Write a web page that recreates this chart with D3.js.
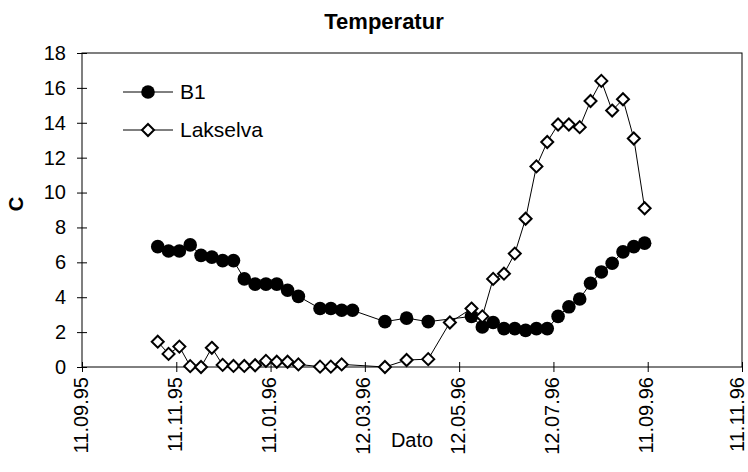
<!DOCTYPE html>
<html><head><meta charset="utf-8">
<script src="https://cdn.jsdelivr.net/npm/d3@7"></script>
<style>
body{margin:0;background:#fff;}
svg{font-family:"Liberation Sans",Arial,sans-serif;}
</style></head>
<body><svg id="c" width="748" height="472"></svg>
<script>
const dates = ["1995-10-30","1995-11-06","1995-11-13","1995-11-20","1995-11-27","1995-12-04","1995-12-11","1995-12-18","1995-12-25",
"1996-01-01","1996-01-08","1996-01-15","1996-01-22","1996-01-29","1996-02-12","1996-02-19","1996-02-26","1996-03-04",
"1996-03-25","1996-04-08","1996-04-22","1996-05-06","1996-05-20","1996-05-27","1996-06-03","1996-06-10","1996-06-17","1996-06-24",
"1996-07-01","1996-07-08","1996-07-15","1996-07-22","1996-07-29","1996-08-05","1996-08-12","1996-08-19","1996-08-26","1996-09-02","1996-09-09"];
const b1 = [6.9,6.65,6.65,7.0,6.4,6.3,6.1,6.1,5.05,
4.75,4.75,4.75,4.4,4.05,3.35,3.35,3.25,3.25,
2.6,2.8,2.6,null,2.9,2.3,2.55,2.2,2.2,2.1,
2.2,2.2,2.9,3.45,3.9,4.8,5.45,5.95,6.6,6.9,7.1];
const lakselva = [1.45,0.75,1.17,0.05,0.0,1.1,0.12,0.06,0.06,
0.1,0.35,0.3,0.3,0.15,0.02,0.02,0.15,null,
0.0,0.4,0.45,2.55,3.35,2.9,5.05,5.35,6.5,8.5,
11.5,12.9,13.9,13.9,13.75,15.25,16.4,14.7,15.35,13.1,9.1];
const seriesNames = ["B1","Lakselva"];
const yTicks = [0,2,4,6,8,10,12,14,16,18];
const xTickDates = ["1995-09-11","1995-11-11","1996-01-11","1996-03-12","1996-05-12","1996-07-12","1996-09-11","1996-11-11"];
const xDomain = ["1995-09-11","1996-11-11"];

const svg = d3.select("#c");
const L=82,R=742,T=53,B=367;
const x = d3.scaleUtc().domain(xDomain.map(d=>new Date(d))).range([L,R]);
const y = d3.scaleLinear().domain([0,18]).range([B,T]);

// plot border
svg.append("rect").attr("x",L).attr("y",T).attr("width",R-L).attr("height",B-T)
  .attr("fill","none").attr("stroke","#000").attr("stroke-width",1);

// axes
const xa = svg.append("g").attr("transform",`translate(0,${B})`)
  .call(d3.axisBottom(x).tickValues(xTickDates.map(d=>new Date(d))).tickFormat(d3.utcFormat("%d.%m.%y")).tickSize(5));
xa.select(".domain").remove();
xa.selectAll(".tick line").attr("y1",-5).attr("y2",5).attr("stroke","#000");
const n = xTickDates.length;
xa.selectAll(".tick text").attr("transform","rotate(-90)").attr("x",-10).attr("y",0)
  .attr("dy",(d,i)=> i===n-1 ? "0.05em" : "0.25em")
  .style("text-anchor","end").style("font-size","20px").attr("fill","#000");

const ya = svg.append("g").attr("transform",`translate(${L},0)`)
  .call(d3.axisLeft(y).tickValues(yTicks).tickSize(5));
ya.select(".domain").remove();
ya.selectAll(".tick line").attr("x1",-5).attr("x2",5).attr("stroke","#000");
ya.selectAll(".tick text").attr("x",-16).style("font-size","20px").attr("fill","#000");

// titles
svg.append("text").attr("x",384).attr("y",29).attr("text-anchor","middle")
  .style("font-size","22px").style("font-weight","bold").text("Temperatur");
svg.append("text").attr("x",412).attr("y",447).attr("text-anchor","middle")
  .style("font-size","20px").text("Dato");
svg.append("text").attr("transform","translate(23,204) rotate(-90)").attr("text-anchor","middle")
  .style("font-size","20px").style("font-weight","bold").text("C");

// series
const pts = vals => dates.map((d,i)=>({d:new Date(d),v:vals[i]})).filter(p=>p.v!==null);
const line = d3.line().x(p=>x(p.d)).y(p=>y(p.v));
const diamond = s => `M0,${-s}L${s},0L0,${s}L${-s},0Z`;

const p1 = pts(b1), p2 = pts(lakselva);
svg.append("path").attr("d",line(p1)).attr("fill","none").attr("stroke","#000").attr("stroke-width",1);
svg.selectAll(".b1").data(p1).join("circle").attr("cx",p=>x(p.d)).attr("cy",p=>y(p.v)).attr("r",6.8).attr("fill","#000");
svg.append("path").attr("d",line(p2)).attr("fill","none").attr("stroke","#000").attr("stroke-width",1);
svg.selectAll(".lk").data(p2).join("path").attr("transform",p=>`translate(${x(p.d)},${y(p.v)})`)
  .attr("d",diamond(6)).attr("fill","#fff").attr("stroke","#000").attr("stroke-width",2);

// legend
const lg = [{n:seriesNames[0],y:92,t:"c"},{n:seriesNames[1],y:130,t:"d"}];
lg.forEach(e=>{
  svg.append("line").attr("x1",123).attr("x2",173).attr("y1",e.y).attr("y2",e.y).attr("stroke","#000");
  if(e.t==="c") svg.append("circle").attr("cx",148).attr("cy",e.y).attr("r",6.8).attr("fill","#000");
  else svg.append("path").attr("transform",`translate(148,${e.y})`).attr("d",diamond(6)).attr("fill","#fff").attr("stroke","#000").attr("stroke-width",2);
  svg.append("text").attr("x",180).attr("y",e.y).attr("dy","0.35em").style("font-size","21px").text(e.n);
});
</script></body></html>
